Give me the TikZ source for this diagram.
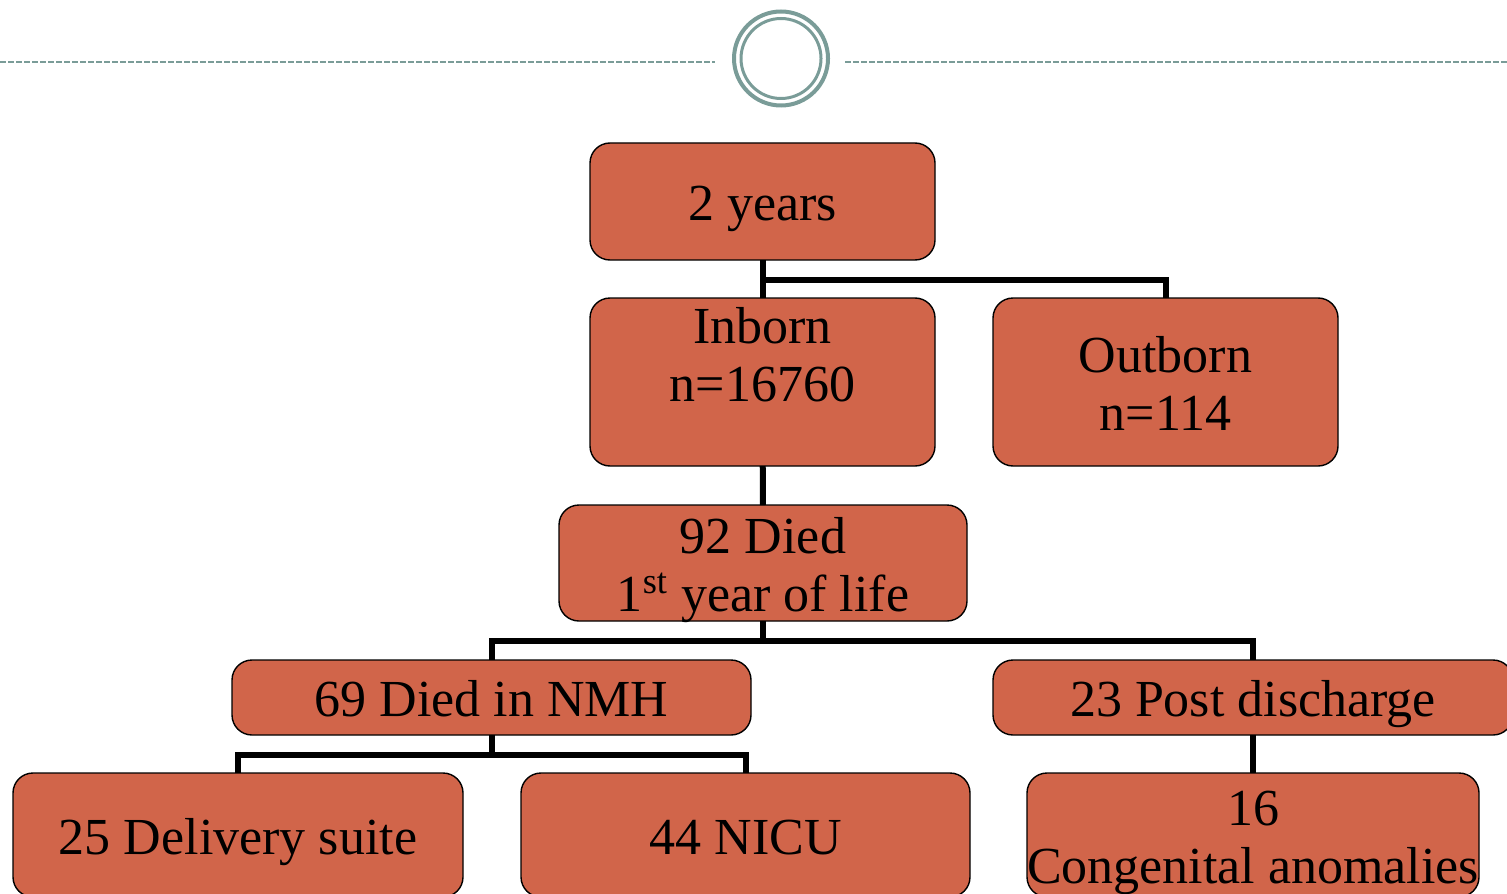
\documentclass[tikz,border=0pt]{standalone}
\usepackage{fontspec}
\setmainfont{Liberation Serif}
\usetikzlibrary{positioning}
\definecolor{boxred}{HTML}{D1654A}
\definecolor{ringgray}{HTML}{7A9C98}

\begin{document}
\begin{tikzpicture}[x=0.5pt,y=-0.5pt,
				box/.style={draw,fill=boxred,rounded corners=10pt,line width=0.7pt,align=center,
					inner sep=0pt,outer sep=0pt,font=\fontsize{26}{29}\selectfont,
					text height=19.1pt,text depth=0pt},
				twoline/.style={text height=48.1pt},
				threeline/.style={text height=77.1pt},
				link/.style={line width=3pt},
				ring/.style={draw=ringgray,line width=2pt}]
				\clip (0,0) rectangle (1507,893);
				% header
				\draw[ringgray,line width=0.7pt,dash pattern=on 3pt off 1pt] (0,62) -- (715,62) (845,62) -- (1507,62);
				\draw[ring] (781,58.5) circle (23.5pt);
				\draw[ring,line width=1.5pt] (781,58.5) circle (20pt);
				% boxes
				\node (YEARS)   [box,minimum width=172.5pt,minimum height=58.5pt] at (762.5,201.5) {2 years};
				\node (INBORN)  [box,threeline,minimum width=172.5pt,minimum height=84pt] at (762.5,382) {Inborn\\n=16760\\\mbox{}};
				\node (OUTBORN) [box,twoline,minimum width=172.5pt,minimum height=84pt,right=29pt of INBORN] {Outborn\\n=114};
				\node (DIED)    [box,twoline,minimum width=204pt,minimum height=58pt] at (763,563) {92 Died\\1\textsuperscript{st} year of life};
				\node (NMH)     [box,minimum width=259.5pt,minimum height=37.5pt] at (491.5,697.5) {69 Died in NMH};
				\node (POST)    [box,minimum width=260pt,minimum height=37.5pt]   at (1253,697.5)  {23 Post discharge};
				\node (SUITE)   [box,minimum width=225pt,minimum height=62pt]     at (238,835)     {25 Delivery suite};
				\node (NICU)    [box,minimum width=224.5pt,minimum height=62pt]   at (745.5,835)   {44 NICU};
				\node (CONG)    [box,twoline,minimum width=225pt,minimum height=62pt] at (1253,835) {16\\Congenital anomalies};
				% links
				\draw[link] (YEARS) -- (INBORN);
				\draw[link] (YEARS.south) ++(0,20) -| (OUTBORN.north);
				\draw[link] (INBORN) -- (DIED);
				\draw[link] (DIED.south) -- ++(0,20) -| (NMH.north);
				\draw[link] (DIED.south) ++(0,20) -| (POST.north);
				\draw[link] (NMH.south) -- ++(0,20) -| (SUITE.north);
				\draw[link] (NMH.south) ++(0,20) -| (NICU.north);
				\draw[link] (POST) -- (CONG);
			\end{tikzpicture}
\end{document}
